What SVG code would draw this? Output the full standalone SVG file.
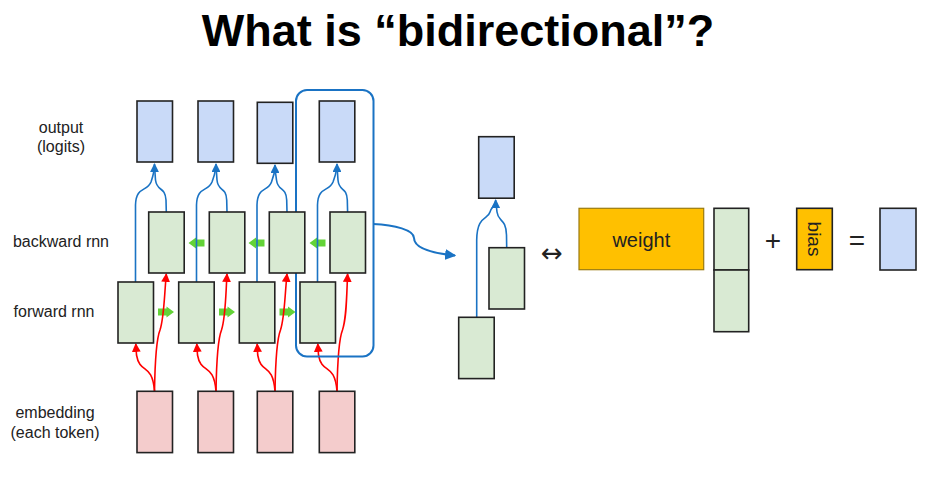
<svg xmlns="http://www.w3.org/2000/svg" width="936" height="498" viewBox="0 0 936 498">
<defs>
<style>
.lbl{font-family:"Liberation Sans",Arial,sans-serif;font-size:16px;fill:#222;text-anchor:middle}
.out{fill:#c9daf8;stroke:#222;stroke-width:1.6}
.rnn{fill:#d9ead3;stroke:#222;stroke-width:1.6}
.emb{fill:#f4cccc;stroke:#222;stroke-width:1.6}
.blue{fill:none;stroke:#1a73c4;stroke-width:1.6}
.red{fill:none;stroke:#ff0000;stroke-width:1.6}
.garr{fill:#63d337}
</style>
<marker id="ab" viewBox="0 0 10 10" refX="9" refY="5" markerWidth="5.5" markerHeight="5.5" orient="auto" markerUnits="strokeWidth"><path d="M0,0L10,5L0,10z" fill="#1a73c4"/></marker>
<marker id="ar" viewBox="0 0 10 10" refX="9" refY="5" markerWidth="5.5" markerHeight="5.5" orient="auto" markerUnits="strokeWidth"><path d="M0,0L10,5L0,10z" fill="#ff0000"/></marker>
<path id="gl" d="M0,0 L7.5,-5.5 L7.5,-3.5 L16,-3.5 L16,3.5 L7.5,3.5 L7.5,5.5 z"/>
<path id="gr" d="M16,0 L8.5,-5.5 L8.5,-3.5 L0,-3.5 L0,3.5 L8.5,3.5 L8.5,5.5 z"/>
</defs>
<rect width="936" height="498" fill="#fff"/>
<text x="458" y="46" font-family="Liberation Sans,Arial,sans-serif" font-size="45" font-weight="bold" text-anchor="middle" fill="#000">What is “bidirectional”?</text>

<g id="labels">
<text class="lbl" x="61" y="133">output</text>
<text class="lbl" x="61" y="152">(logits)</text>
<text class="lbl" x="61" y="246.5">backward rnn</text>
<text class="lbl" x="54" y="317">forward rnn</text>
<text class="lbl" x="55" y="418">embedding</text>
<text class="lbl" x="55" y="438">(each token)</text>
</g>

<g id="connectors">
<!-- green recurrence arrows -->
<g class="garr">
<use href="#gl" x="188.5" y="243"/>
<use href="#gl" x="248.5" y="243"/>
<use href="#gl" x="309.5" y="243"/>
<use href="#gr" x="158" y="312"/>
<use href="#gr" x="219" y="312"/>
<use href="#gr" x="279.5" y="312"/>
</g>
<!-- blue: output from rnn -->
<g class="blue">
<path d="M135.5,282 L135.5,205 C136,186 147,192 151,182 C153,176 154.5,172 154.5,164" marker-end="url(#ab)"/>
<path d="M166.3,212 L166,200 C165,186 157,192 155.5,180 L154.8,170"/>
<path d="M196.5,282 L196.5,205 C197,186 208,192 212,182 C214,176 216,172 216,164" marker-end="url(#ab)"/>
<path d="M227,212 L226.7,200 C226,186 218,192 217,180 L216.3,170"/>
<path d="M257,282 L257,205 C257.5,186 268,192 271.5,182 C274,176 275,172 275,165" marker-end="url(#ab)"/>
<path d="M287,212 L286.7,200 C286,186 278,192 276.5,180 L275.3,171"/>
<path d="M317.5,282 L317.5,205 C318,186 329,192 333,182 C335,176 337,172 337,164" marker-end="url(#ab)"/>
<path d="M347.6,212 L347.3,200 C346.5,186 339,192 338,180 L337.3,170"/>
</g>
<!-- red: embedding to rnn -->
<g class="red">
<path d="M154.5,391 C152,362 140,375 136.5,355 L135.8,344" marker-end="url(#ar)"/>
<path d="M154.5,391 C155,360 156,340 160,330 C164,318 164,300 166.3,274" marker-end="url(#ar)"/>
<path d="M216,391 C213.5,362 201,375 197.5,355 L196.8,344" marker-end="url(#ar)"/>
<path d="M216,391 C216.5,360 217.5,340 221.5,330 C225.5,318 225.5,300 227,274" marker-end="url(#ar)"/>
<path d="M275,391 C272.5,362 261,375 257.7,355 L257.2,344" marker-end="url(#ar)"/>
<path d="M275,391 C275.5,360 276.5,340 280.5,330 C284.5,318 284.5,300 287,274" marker-end="url(#ar)"/>
<path d="M337,391 C334.5,362 322,375 318.5,355 L317.8,344" marker-end="url(#ar)"/>
<path d="M337,391 C337.5,360 338.5,340 342.5,330 C346.5,318 346.5,300 347.6,274" marker-end="url(#ar)"/>
</g>
<!-- highlight curve -->
<path class="blue" style="stroke-width:2" d="M373,224 C395,225 414,230 414,238 C414,248 430,253 455,255.5" marker-end="url(#ab)"/>
<!-- right side -->
<g class="blue">
<path d="M476.7,317 L476.7,240 C477,215 488,220 490,212 C492,206 495.7,206 495.7,200" marker-end="url(#ab)"/>
<path d="M506.7,247.5 L506.5,235 C506,218 498,222 497,212 L496.2,205"/>
</g>
</g>

<g id="highlight"><rect x="296" y="90" width="77.5" height="266.5" rx="11" fill="none" stroke="#1a73c4" stroke-width="2"/></g>

<g id="outputs">
<rect class="out" x="137" y="101" width="35.5" height="61"/>
<rect class="out" x="198" y="101" width="35.5" height="61"/>
<rect class="out" x="257.3" y="102.3" width="35.5" height="61"/>
<rect class="out" x="319.3" y="101" width="35.5" height="61"/>
</g>
<g id="backward">
<rect class="rnn" x="148.7" y="212" width="35.5" height="61"/>
<rect class="rnn" x="209.3" y="212" width="35.5" height="61"/>
<rect class="rnn" x="269.3" y="212" width="35.5" height="61"/>
<rect class="rnn" x="330" y="212" width="35.5" height="61"/>
</g>
<g id="forward">
<rect class="rnn" x="118" y="282" width="35.5" height="61"/>
<rect class="rnn" x="178.7" y="282" width="35.5" height="61"/>
<rect class="rnn" x="239.3" y="282" width="35.5" height="61"/>
<rect class="rnn" x="300" y="282" width="35.5" height="61"/>
</g>
<g id="embeddings">
<rect class="emb" x="137" y="391.3" width="35.5" height="61.3"/>
<rect class="emb" x="198" y="391.3" width="35.5" height="61.3"/>
<rect class="emb" x="257.3" y="391.3" width="35.5" height="61.3"/>
<rect class="emb" x="319.3" y="391.3" width="35.5" height="61.3"/>
</g>

<g id="detail">
<rect class="out" x="478.7" y="136.7" width="35.5" height="61.5"/>
<rect class="rnn" x="489" y="247.7" width="35.5" height="61.3"/>
<rect class="rnn" x="458.7" y="317.3" width="35.5" height="61.3"/>
</g>

<g id="equation">
<text x="552" y="262" font-family="DejaVu Sans,sans-serif" font-size="26" text-anchor="middle" fill="#222">↔</text>
<g id="weight"><rect x="579" y="208.3" width="124.7" height="61.4" fill="#ffc000" stroke="#9a7a10" stroke-width="1.2"/>
<text x="641.3" y="246.5" font-family="Liberation Sans,Arial,sans-serif" font-size="20" text-anchor="middle" fill="#222">weight</text></g>
<g id="hidden"><rect class="rnn" x="714" y="208.3" width="34.7" height="61.7"/><rect class="rnn" x="714" y="270" width="34.7" height="61.7"/></g>
<text x="773" y="250" font-family="Liberation Sans,Arial,sans-serif" font-size="28" text-anchor="middle" fill="#222">+</text>
<g id="bias"><rect x="796.7" y="208.3" width="35.6" height="61.4" fill="#ffc000" stroke="#222" stroke-width="1.6"/>
<text transform="translate(807.5,239) rotate(90)" font-family="Liberation Sans,Arial,sans-serif" font-size="19" text-anchor="middle" fill="#222">bias</text></g>
<text x="857" y="250" font-family="Liberation Sans,Arial,sans-serif" font-size="28" text-anchor="middle" fill="#222">=</text>
<g id="result"><rect class="out" x="880" y="208.3" width="36" height="61.7"/></g>
</g>
</svg>
